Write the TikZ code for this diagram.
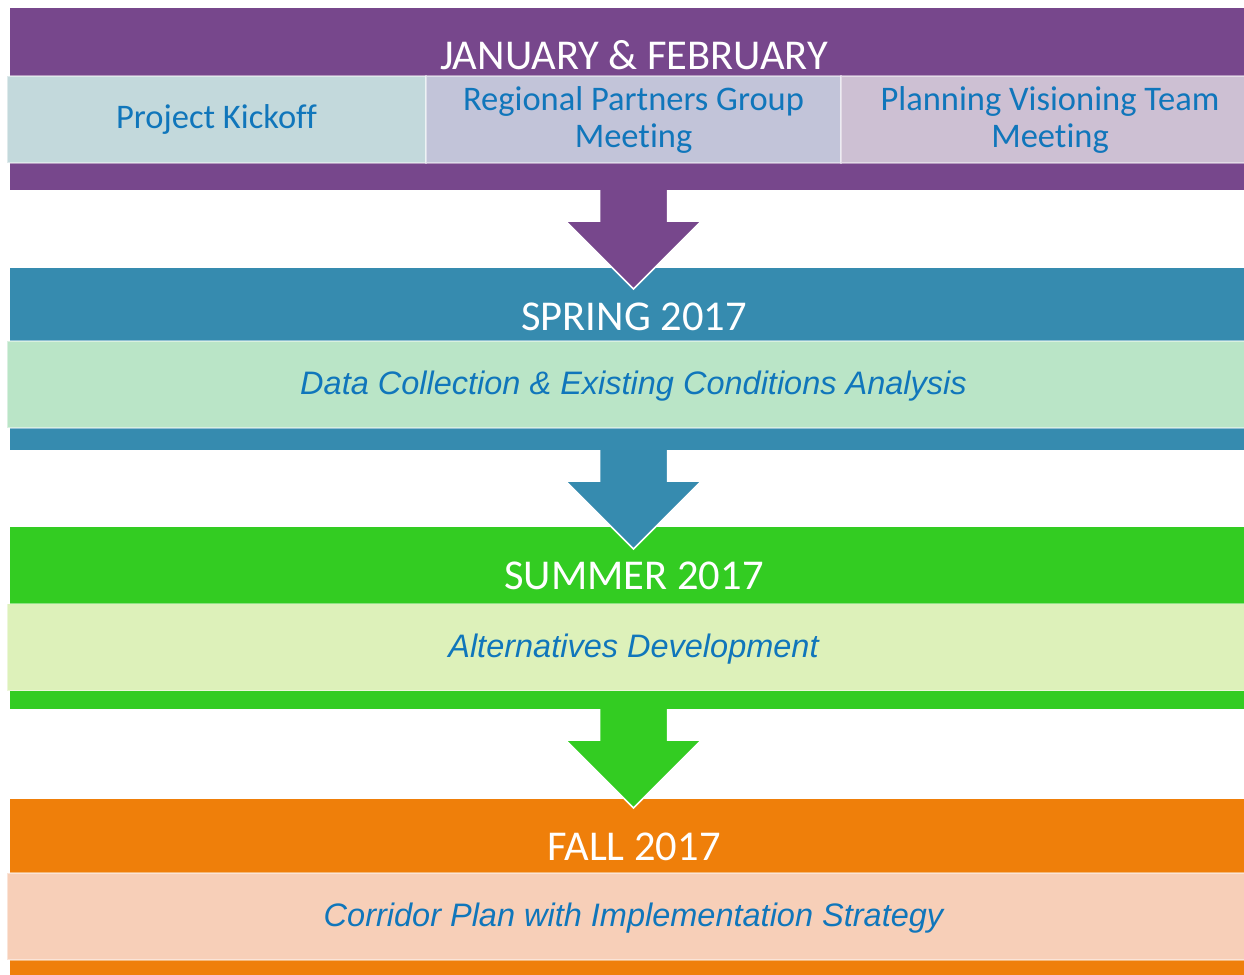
\documentclass[tikz,border=0pt]{standalone}
\usepackage{fontspec}
\setmainfont{Carlito}[Ligatures=NoCommon]
\newfontfamily\grotesque{Liberation Sans}
\usetikzlibrary{calc}
\definecolor{cPurple}{HTML}{77478C}
\definecolor{cBlue}{HTML}{368BAF}
\definecolor{cGreen}{HTML}{33CC22}
\definecolor{cOrange}{HTML}{EF7F0A}
\definecolor{lKick}{HTML}{C3D9DC}
\definecolor{lRegional}{HTML}{C2C4D9}
\definecolor{lPlanning}{HTML}{CDC0D3}
\definecolor{lSpring}{HTML}{BAE5C7}
\definecolor{lSummer}{HTML}{DDF1BA}
\definecolor{lFall}{HTML}{F7CFB8}
\definecolor{txtBlue}{HTML}{1076BB}
\newcommand\flowarrow[2]{%
  \fill[#2] ($(#1.south)+(-34,-2)$) -- ($(#1.south)+(-34,31)$) -- ($(#1.south)+(-68,31)$)
    -- ($(#1.south)+(0,99)$) -- ($(#1.south)+(68,31)$) -- ($(#1.south)+(34,31)$)
    -- ($(#1.south)+(34,-2)$) -- cycle;
  \draw[white, line width=1.5pt, line join=miter] ($(#1.south)+(-34,0)$) -- ($(#1.south)+(-34,31)$)
    -- ($(#1.south)+(-68,31)$) -- ($(#1.south)+(0,99)$) -- ($(#1.south)+(68,31)$)
    -- ($(#1.south)+(34,31)$) -- ($(#1.south)+(34,0)$);
}
\begin{document}
\begin{tikzpicture}[x=1pt,y=-1pt,
  band/.style={fill=#1, draw=none, minimum width=1247pt, minimum height=182pt, inner sep=0pt, outer sep=0pt},
  inbox/.style={fill=#1, draw=white, draw opacity=0.45, line width=1.2pt, minimum height=87pt,
    inner sep=0pt, outer sep=0pt, text=txtBlue, font=\fontsize{34.5}{37}\selectfont, align=center},
  widebox/.style={inbox=#1, minimum width=1253pt, text height=27.7pt, text depth=6.9pt,
    font=\fontsize{32.5}{38}\selectfont\grotesque\itshape},
  title/.style={text=white, font=\fontsize{42.5}{48}\selectfont, anchor=base, inner sep=0pt},
]
\useasboundingbox (0,0) rectangle (1244,974);
% January & February
\node[band=cPurple] (b1) at (633.5,99) {};
\node[title] (t1) at (634,70) {JANUARY \& FEBRUARY};
\node[inbox=lKick, minimum width=419pt] (kick) at (216.5,119.5) {Project Kickoff};
\node[inbox=lRegional, minimum width=415pt] (regional) at (633.5,119.5) {Regional Partners Group\\Meeting};
\node[inbox=lPlanning, minimum width=418pt] (planning) at (1050,119.5) {Planning Visioning Team\\Meeting};
% Spring
\node[band=cBlue] (b2) at (633.5,359) {};
\flowarrow{b1}{cPurple}
\node[title] (t2) at (634,330) {SPRING 2017};
\node[widebox=lSpring] (data) at (633.5,384.5) {Data Collection \& Existing Conditions Analysis};
% Summer
\node[band=cGreen] (b3) at (633.5,618) {};
\flowarrow{b2}{cBlue}
\node[title] (t3) at (634,589) {SUMMER 2017};
\node[widebox=lSummer] (alt) at (633.5,647) {Alternatives Development};
% Fall
\node[band=cOrange] (b4) at (633.5,890) {};
\flowarrow{b3}{cGreen}
\node[title] (t4) at (634,860) {FALL 2017};
\node[widebox=lFall] (corridor) at (633.5,916.5) {Corridor Plan with Implementation Strategy};
\end{tikzpicture}
\end{document}
